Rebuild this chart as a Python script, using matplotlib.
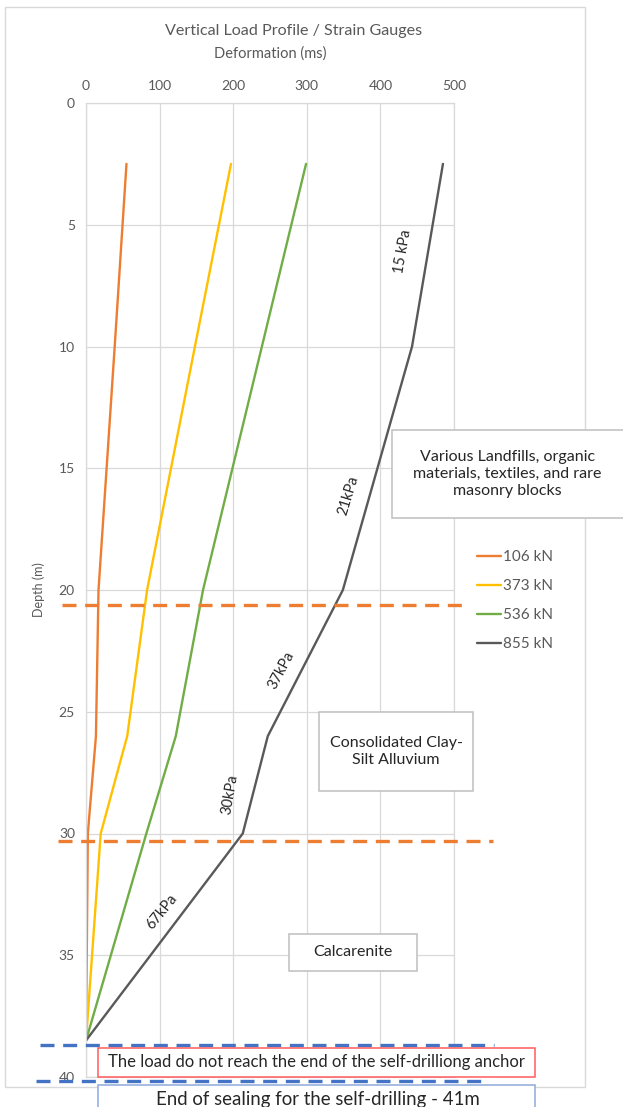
import matplotlib
matplotlib.use("Agg")
import matplotlib.pyplot as plt
from matplotlib.lines import Line2D
from matplotlib.patches import Rectangle
from matplotlib.transforms import blended_transform_factory

plt.rcParams['font.family'] = ['Lato', 'DejaVu Sans']

# Strain-gauge readings along the anchor
depths = [2.5, 10, 20, 26, 30, 38.5]
load_labels = ["106 kN", "373 kN", "536 kN", "855 kN"]
deform_106 = [55, 39, 17, 13.5, 2.5, 0]
deform_373 = [197, 148, 83, 56, 20, 0]
deform_536 = [299, 239, 159, 122, 82, 0]
deform_855 = [485, 443, 349, 247, 213, 0]
series = [deform_106, deform_373, deform_536, deform_855]
colors = ["#ED7D31", "#FFC000", "#70AD47", "#595959"]

# Shaft friction annotations along the 855 kN profile
kpa_labels = ["15 kPa", "21kPa", "37kPa", "30kPa", "67kPa"]
kpa_x = [431, 356, 266, 196, 103]
kpa_depth = [6.1, 16.1, 23.3, 28.4, 33.2]
kpa_rot = [80, 73, 62, 80, 51]

# Geological boundaries (m)
layer_depths = [20.6, 30.3]
anchor_depths = [38.7, 40.15]

W, H = 623, 1107
fig = plt.figure(figsize=(W / 100, H / 100), dpi=100)


def fx(px):
    return px / W


def fy(py):
    return 1 - py / H


grey = "#595959"
grid = "#D9D9D9"

# chart frame
fig.patches.append(Rectangle((fx(5), fy(1087)), fx(585) - fx(5), fy(7) - fy(1087),
                             transform=fig.transFigure, fill=False, edgecolor=grid, lw=1))

ax = fig.add_axes([fx(86), fy(1077), fx(454) - fx(86), fy(103) - fy(1077)])
for vals, c, lab in zip(series, colors, load_labels):
    ax.plot(vals, depths, color=c, lw=1.7, label=lab, solid_capstyle='round')

ax.set_xlim(0, 500)
ax.set_ylim(40, 0)
ax.set_xticks(range(0, 501, 100))
ax.set_yticks(range(0, 41, 5))
ax.xaxis.tick_top()
ax.xaxis.set_label_position('top')
ax.tick_params(length=0, colors=grey, labelsize=10, pad=8)
ax.tick_params(axis='x', pad=8)
ax.grid(True, color=grid, lw=0.9)
ax.set_axisbelow(True)
for s in ax.spines.values():
    s.set_color(grid)
    s.set_linewidth(0.9)
ax.set_xlabel("Deformation (ms)", color=grey, fontsize=10.5, labelpad=16)
ax.set_ylabel("Depth (m)", color=grey, fontsize=9)
ax.yaxis.set_label_coords(-0.111, 0.5)
fig.text(fx(294), fy(31), "Vertical Load Profile / Strain Gauges", color=grey,
         fontsize=11.6, ha='center', va='center')

for t, x, d, r in zip(kpa_labels, kpa_x, kpa_depth, kpa_rot):
    ax.text(x, d, t, rotation=r, ha='center', va='center', fontsize=10.5,
            color="#262626", rotation_mode='anchor', fontstyle='normal')

# boundary lines spanning beyond the plot area
bt = blended_transform_factory(fig.transFigure, ax.transData)
for d, x0, x1 in zip(layer_depths, [fx(62), fx(58)], [fx(464), fx(493)]):
    fig.add_artist(Line2D([x0, x1], [d, d], transform=bt, color="#ED7D31", lw=2.4,
                          dashes=(4.2, 2.6), clip_on=False))
for d, x0, x1 in zip(anchor_depths, [fx(40), fx(36)], [fx(494), fx(486)]):
    fig.add_artist(Line2D([x0, x1], [d, d], transform=bt, color="#4472C4", lw=2.4,
                          dashes=(4.2, 2.6), clip_on=False))


def box(x0, y0, x1, y1, text, edge, fs, tcol="#262626"):
    fig.patches.append(Rectangle((fx(x0), fy(y1)), fx(x1) - fx(x0), fy(y0) - fy(y1),
                                 transform=fig.transFigure, facecolor="white",
                                 edgecolor=edge, lw=1.1, zorder=5))
    fig.text(fx((x0 + min(x1, W)) / 2), fy((y0 + y1) / 2), text, ha='center',
             va='center', fontsize=fs, color=tcol, zorder=6, linespacing=1.3)


box(392, 430, 650, 518, "Various Landfills, organic\nmaterials, textiles, and rare\nmasonry blocks",
    "#BFBFBF", 11.5)
box(319, 712, 473, 791, "Consolidated Clay-\nSilt Alluvium", "#BFBFBF", 11.5)
box(289, 934, 417, 971, "Calcarenite", "#BFBFBF", 11.5)
box(98, 1048, 535, 1077, "The load do not reach the end of the self-drilliong anchor",
    "#FF5B5B", 12)
fig.patches.append(Rectangle((fx(98), fy(1130)), fx(535) - fx(98), fy(1085) - fy(1130),
                             transform=fig.transFigure, facecolor="white",
                             edgecolor="#8FAADC", lw=1.1, zorder=5))
fig.text(fx(318), fy(1100), "End of sealing for the self-drilling - 41m", ha='center',
         va='center', fontsize=13.4, color="#262626", zorder=6)

fig.legend(*ax.get_legend_handles_labels(), loc='upper left',
           bbox_to_anchor=(fx(477), fy(550)), frameon=False, fontsize=11,
           handlelength=1.55, handletextpad=0.12, labelspacing=0.98,
           borderpad=0, borderaxespad=0, labelcolor=grey)

fig.savefig("out.png", dpi=100)
